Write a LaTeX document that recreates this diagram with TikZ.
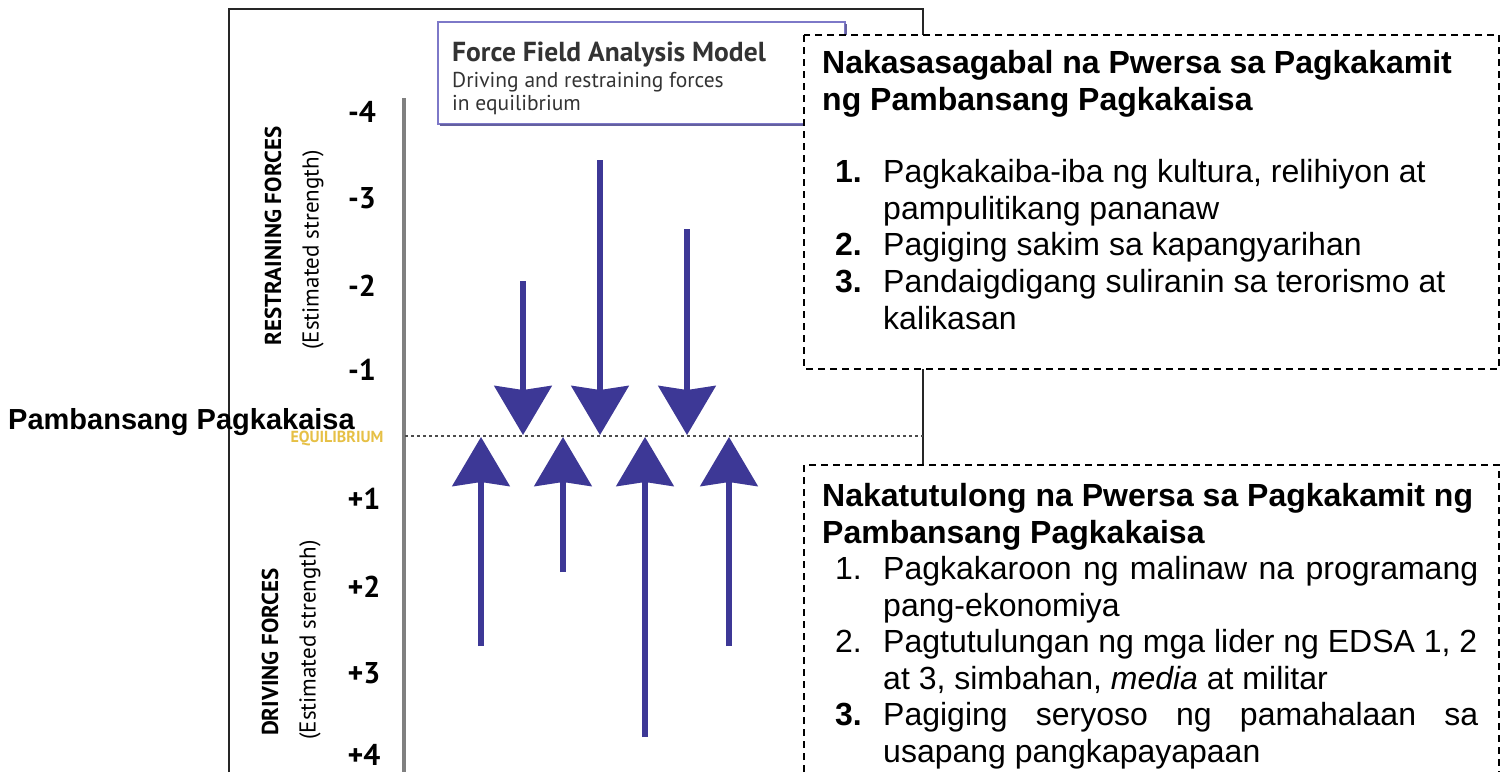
\documentclass[tikz,border=0pt]{standalone}
\usepackage{fontspec}
\setmainfont{Liberation Sans}
\newfontfamily\chartfont{PT Sans}
\usetikzlibrary{arrows.meta}

\definecolor{forceblue}{RGB}{61,56,150}
\definecolor{modelline}{RGB}{125,120,200}
\definecolor{eqyellow}{RGB}{230,192,70}
\definecolor{axisgray}{RGB}{128,128,128}

\newcommand{\fullline}[1]{\makebox[595pt][s]{#1}}

\begin{document}
\begin{tikzpicture}[x=1pt,y=-1pt]
	\tikzstyle{force}=[forceblue, line width=6pt, -{Stealth[length=49pt,width=57pt,inset=4pt]}]
	\tikzstyle{forceshade}=[force, black!7, shift={(6,6)}]
	\tikzstyle{level}=[font=\chartfont\bfseries\fontsize{30}{30}\selectfont, inner sep=0pt]
	\tikzstyle{sidelabel}=[font=\chartfont\bfseries\fontsize{23}{23}\selectfont, rotate=90, inner sep=0pt]
	\tikzstyle{sidenote}=[font=\chartfont\fontsize{23}{23}\selectfont, rotate=90, inner sep=0pt]
	\tikzstyle{listbox}=[draw, fill=white, line width=1.5pt, dash pattern=on 7pt off 5pt]
	\tikzstyle{body}=[font=\fontsize{32}{36.6}\selectfont, anchor=base west, align=left, inner sep=0pt]
	\tikzstyle{heading}=[body, font=\bfseries\fontsize{32}{36.6}\selectfont]
	\tikzstyle{num}=[body, anchor=base east]
	\tikzstyle{numbold}=[heading, anchor=base east]

	\useasboundingbox (0,0) rectangle (1505,772);

	% picture frame and model title
	\draw[black!85, line width=2pt] (229,772) -- (229,9) -- (923,9) -- (923,772);
	\draw[modelline, line width=2pt] (438,22) rectangle (845,124);
	\draw[modelline!80!black, line width=1.5pt] (440,125) -- (846,125) -- (846,24);
	\node[font=\chartfont\bfseries\fontsize{27.5}{27.5}\selectfont, anchor=base west, inner sep=0pt, black!80] (model) at (452,61) {Force Field Analysis Model};
	\node[font=\chartfont\fontsize{21.5}{21.5}\selectfont, anchor=base west, inner sep=0pt, black!80] (modelsub) at (452,87) {Driving and restraining forces};
	\node[font=\chartfont\fontsize{21.5}{21.5}\selectfont, anchor=base west, inner sep=0pt, black!80] (modelsub2) at (452,110) {in equilibrium};

	% strength axis
	\coordinate (axtop) at (404,98);
	\coordinate (axbot) at (404,772);
	\draw[axisgray, line width=4pt] (axtop) -- (axbot);
	\node[level] (m4) at (362,112) {-4};
	\node[level] (m3) at (362,198) {-3};
	\node[level] (m2) at (362,286) {-2};
	\node[level] (m1) at (362,370) {-1};
	\node[level] (p1) at (364,499) {+1};
	\node[level] (p2) at (364,587) {+2};
	\node[level] (p3) at (364,673) {+3};
	\node[level] (p4) at (364,755) {+4};
	\node[sidelabel] (restrain) at (273,236) {RESTRAINING FORCES};
	\node[sidenote] (restrainnote) at (313,250) {(Estimated strength)};
	\node[sidelabel] (drive) at (270,652) {DRIVING FORCES};
	\node[sidenote] (drivenote) at (310,640) {(Estimated strength)};

	% equilibrium
	\coordinate (eqL) at (405,436);
	\coordinate (eqR) at (923,436);
	\draw[black!70, line width=2pt, dash pattern=on 3pt off 3pt] (eqL) -- (eqR);
	\node[font=\chartfont\bfseries\fontsize{16}{16}\selectfont, text=eqyellow, inner sep=0pt] (eq) at (337,438) {EQUILIBRIUM};
	\node[font=\bfseries\fontsize{29}{29}\selectfont, anchor=base west, inner sep=0pt] (unity) at (8,429) {Pambansang Pagkakaisa};

	% restraining forces
	\coordinate (r1) at (523,281);
	\coordinate (r1e) at (523,435);
	\coordinate (r2) at (600,160);
	\coordinate (r2e) at (600,435);
	\coordinate (r3) at (687,229);
	\coordinate (r3e) at (687,435);
	\draw[forceshade] (r1) -- (r1e);
	\draw[forceshade] (r2) -- (r2e);
	\draw[forceshade] (r3) -- (r3e);
	\draw[force] (r1) -- (r1e);
	\draw[force] (r2) -- (r2e);
	\draw[force] (r3) -- (r3e);

	% driving forces
	\coordinate (d1) at (481,646);
	\coordinate (d1e) at (481,437);
	\coordinate (d2) at (563,572);
	\coordinate (d2e) at (563,437);
	\coordinate (d3) at (645,737);
	\coordinate (d3e) at (645,437);
	\coordinate (d4) at (729,646);
	\coordinate (d4e) at (729,437);
	\draw[forceshade] (d1) -- (d1e);
	\draw[forceshade] (d2) -- (d2e);
	\draw[forceshade] (d3) -- (d3e);
	\draw[forceshade] (d4) -- (d4e);
	\draw[force] (d1) -- (d1e);
	\draw[force] (d2) -- (d2e);
	\draw[force] (d3) -- (d3e);
	\draw[force] (d4) -- (d4e);

	% hindering forces box
	\draw[listbox] (804,35) rectangle (1499,369);
	\node[heading] (hinder) at (822,110) {Nakasasagabal na Pwersa sa Pagkakamit\\ng Pambansang Pagkakaisa};
	\node[numbold] (h1n) at (862,182) {1.};
	\node[body] (h1) at (883,219) {Pagkakaiba-iba ng kultura, relihiyon at\\pampulitikang pananaw};
	\node[numbold] (h2n) at (862,255) {2.};
	\node[body] (h2) at (883,255) {Pagiging sakim sa kapangyarihan};
	\node[numbold] (h3n) at (862,292) {3.};
	\node[body] (h3) at (883,329) {Pandaigdigang suliranin sa terorismo at\\kalikasan};

	% helping forces box
	\draw[listbox] (804,772) -- (804,465) -- (1499,465) -- (1499,772);
	\node[heading] (help) at (822,543) {Nakatutulong na Pwersa sa Pagkakamit ng\\Pambansang Pagkakaisa};
	\node[num] (g1n) at (862,579) {1.};
	\node[body] (g1) at (883,616) {\fullline{Pagkakaroon ng malinaw na programang}\\pang-ekonomiya};
	\node[num] (g2n) at (862,652) {2.};
	\node[body] (g2) at (883,689) {Pagtutulungan ng mga lider ng EDSA 1, 2\\at 3, simbahan, \emph{media} at militar};
	\node[numbold] (g3n) at (862,725) {3.};
	\node[body] (g3) at (883,762) {\fullline{Pagiging seryoso ng pamahalaan sa}\\usapang pangkapayapaan};
\end{tikzpicture}
\end{document}
